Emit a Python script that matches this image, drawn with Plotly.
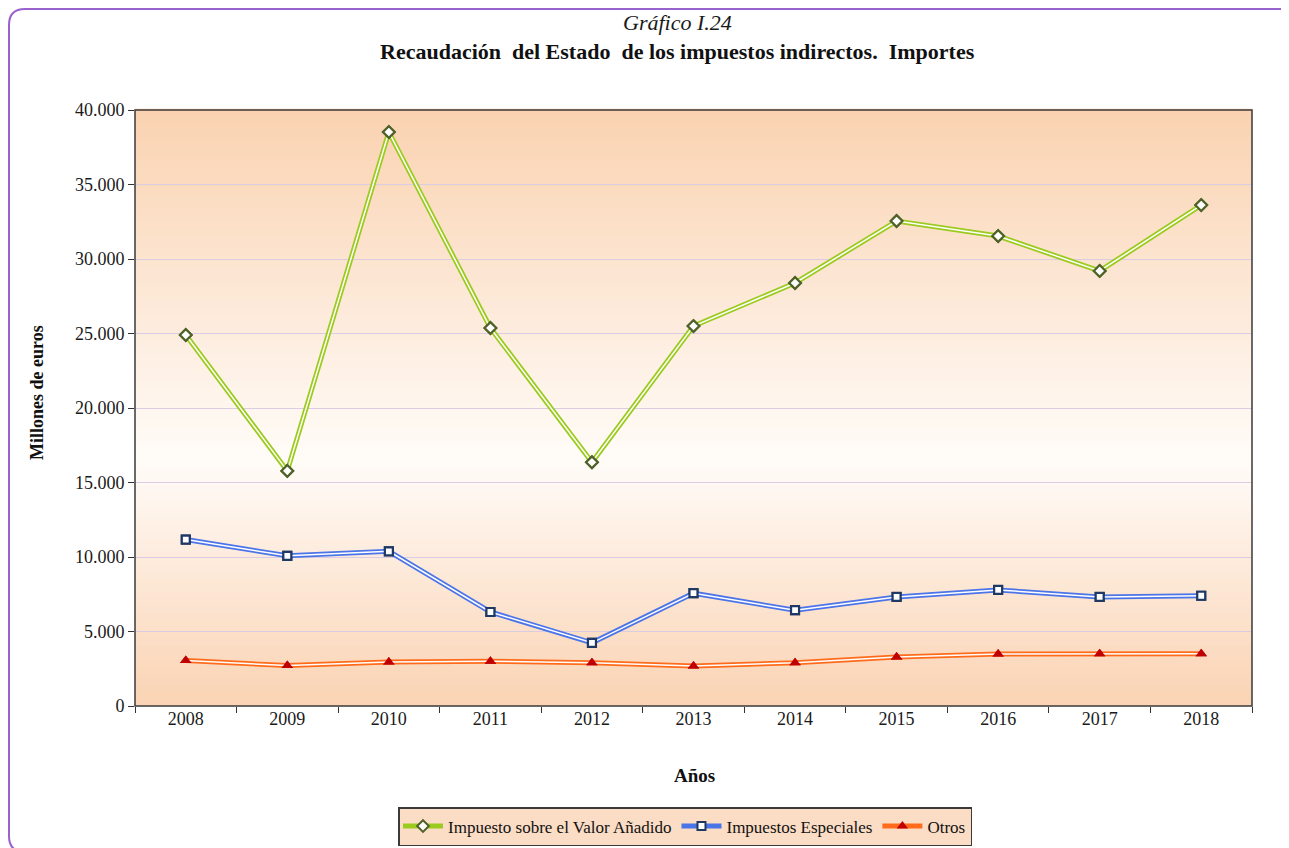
import plotly.graph_objects as go

years = ["2008", "2009", "2010", "2011", "2012", "2013", "2014", "2015", "2016", "2017", "2018"]
iva = [24900, 15780, 38520, 25370, 16360, 25500, 28390, 32550, 31540, 29200, 33620]
especiales = [11170, 10080, 10380, 6310, 4240, 7570, 6430, 7320, 7790, 7320, 7400]
otros = [3060, 2710, 2950, 3000, 2900, 2690, 2900, 3290, 3490, 3510, 3510]

series = [
    ("Impuesto sobre el Valor Añadido", iva, "#9BCB1E", "diamond", "#4F6228", 9),
    ("Impuestos Especiales", especiales, "#4A74E8", "square", "#1F3864", 8),
    ("Otros", otros, "#FF6B1A", "triangle-up", "#C00000", 10),
]

OFF = 8  # default body margin of the html page
W, H = 1289 - OFF, 848 - OFF
# plot area in page pixels
L, R, T, B = 135, 1252, 110, 706


def px(x):
    return (x - L) / (R - L)


def py(y):
    return (B - y) / (B - T)


fig = go.Figure()

for name, vals, col, sym, mcol, msz in series:
    fig.add_trace(go.Scatter(
        x=years, y=vals, name=name, mode="lines+markers",
        line=dict(color=col, width=5),
        marker=dict(symbol=sym, size=msz, color="white" if sym != "triangle-up" else mcol,
                    line=dict(color=mcol, width=2 if sym != "triangle-up" else 0)),
        showlegend=True, legendgroup=name, hoverinfo="skip"))
for name, vals, col, sym, mcol, msz in series:
    fig.add_trace(go.Scatter(
        x=years, y=vals, mode="lines", line=dict(color="white", width=1.5),
        showlegend=False, legendgroup=name, hoverinfo="skip"))
for name, vals, col, sym, mcol, msz in series:
    if sym == "triangle-up":
        mk = dict(symbol=sym, size=msz, color=mcol, line=dict(width=0))
    else:
        mk = dict(symbol=sym, size=msz, color="white", line=dict(color=mcol, width=2.2))
    fig.add_trace(go.Scatter(
        x=years, y=vals, mode="markers", marker=mk,
        showlegend=False, legendgroup=name, name=name))


def lerp(c1, c2, t):
    return "rgb(%d,%d,%d)" % tuple(round(a + (b - a) * t) for a, b in zip(c1, c2))


peach_top = (250, 210, 176)
white = (255, 252, 249)
peach_bot = (250, 211, 179)
mid = 0.59
n = 90
shapes = []
for i in range(n):
    f0 = i / n
    f1 = (i + 1) / n
    fc = (f0 + f1) / 2
    if fc < mid:
        c = lerp(peach_top, white, fc / mid)
    else:
        c = lerp(white, peach_bot, (fc - mid) / (1 - mid))
    shapes.append(dict(type="rect", xref="x domain", yref="y domain",
                       x0=0, x1=1, y0=1 - f1, y1=1 - f0 + 0.002,
                       fillcolor=c, line=dict(width=0), layer="below"))

shapes.append(dict(type="rect", xref="paper", yref="paper", x0=0, x1=1, y0=0, y1=1,
                   line=dict(color="#3a3a3a", width=1.5), layer="above"))

# outer rounded purple frame
x0, x1 = px(9), px(1300)
y0, y1 = py(9), py(852)
rx = 16 / (R - L)
ry = 16 / (B - T)
path = (f"M {x0},{y1 + ry} L {x0},{y0 - ry} Q {x0},{y0} {x0 + rx},{y0} "
        f"L {x1 - rx},{y0} Q {x1},{y0} {x1},{y0 - ry} L {x1},{y1 + ry} "
        f"Q {x1},{y1} {x1 - rx},{y1} L {x0 + rx},{y1} Q {x0},{y1} {x0},{y1 + ry} Z")
shapes.append(dict(type="path", xref="paper", yref="paper", path=path,
                   line=dict(color="#9A62CC", width=2), layer="above"))

serif = "Liberation Serif, Times New Roman, serif"

annotations = [
    dict(text="<i>Gráfico I.24</i>", xref="paper", yref="paper", x=px(677), y=py(22),
         showarrow=False, font=dict(family=serif, size=22, color="#1a1a1a"),
         xanchor="center", yanchor="middle"),
    dict(text="<b>Recaudación  del Estado  de los impuestos indirectos.  Importes</b>",
         xref="paper", yref="paper", x=px(677), y=py(51), showarrow=False,
         font=dict(family=serif, size=22, color="#111111"), xanchor="center", yanchor="middle"),
    dict(text="<b>Millones de euros</b>", xref="paper", yref="paper", x=px(37), y=py(393),
         showarrow=False, textangle=-90, font=dict(family=serif, size=18, color="#111111"),
         xanchor="center", yanchor="middle"),
    dict(text="<b>Años</b>", xref="paper", yref="paper", x=px(694), y=py(775),
         showarrow=False, font=dict(family=serif, size=19, color="#111111"),
         xanchor="center", yanchor="middle"),
]

fig.update_layout(
    width=W, height=H,
    margin=dict(l=L - OFF, r=W - (R - OFF), t=T - OFF, b=H - (B - OFF), autoexpand=False),
    paper_bgcolor="white", plot_bgcolor="rgba(0,0,0,0)",
    separators=",.",
    font=dict(family=serif, size=17, color="#1a1a1a"),
    shapes=shapes, annotations=annotations,
    showlegend=True,
    legend=dict(orientation="h", x=px(685), y=py(807), xanchor="center", yanchor="top",
                bgcolor="#FBDCC4", bordercolor="#3a3a3a", borderwidth=1.5,
                font=dict(family=serif, size=17, color="#111111"),
                itemwidth=40, tracegroupgap=30),
    xaxis=dict(type="category", range=[-0.5, 10.5], tickson="boundaries",
               ticks="outside", ticklen=6, tickcolor="#333333",
               showgrid=False, showline=False, zeroline=False,
               tickfont=dict(family=serif, size=18, color="#1a1a1a")),
    yaxis=dict(range=[0, 40000], dtick=5000, tickformat=",.0f",
               ticks="outside", ticklen=6, tickcolor="#333333",
               showgrid=True, gridcolor="#D9CCE3", gridwidth=1,
               showline=False, zeroline=False,
               tickfont=dict(family=serif, size=18, color="#1a1a1a")),
)

fig.write_html("out.html")
